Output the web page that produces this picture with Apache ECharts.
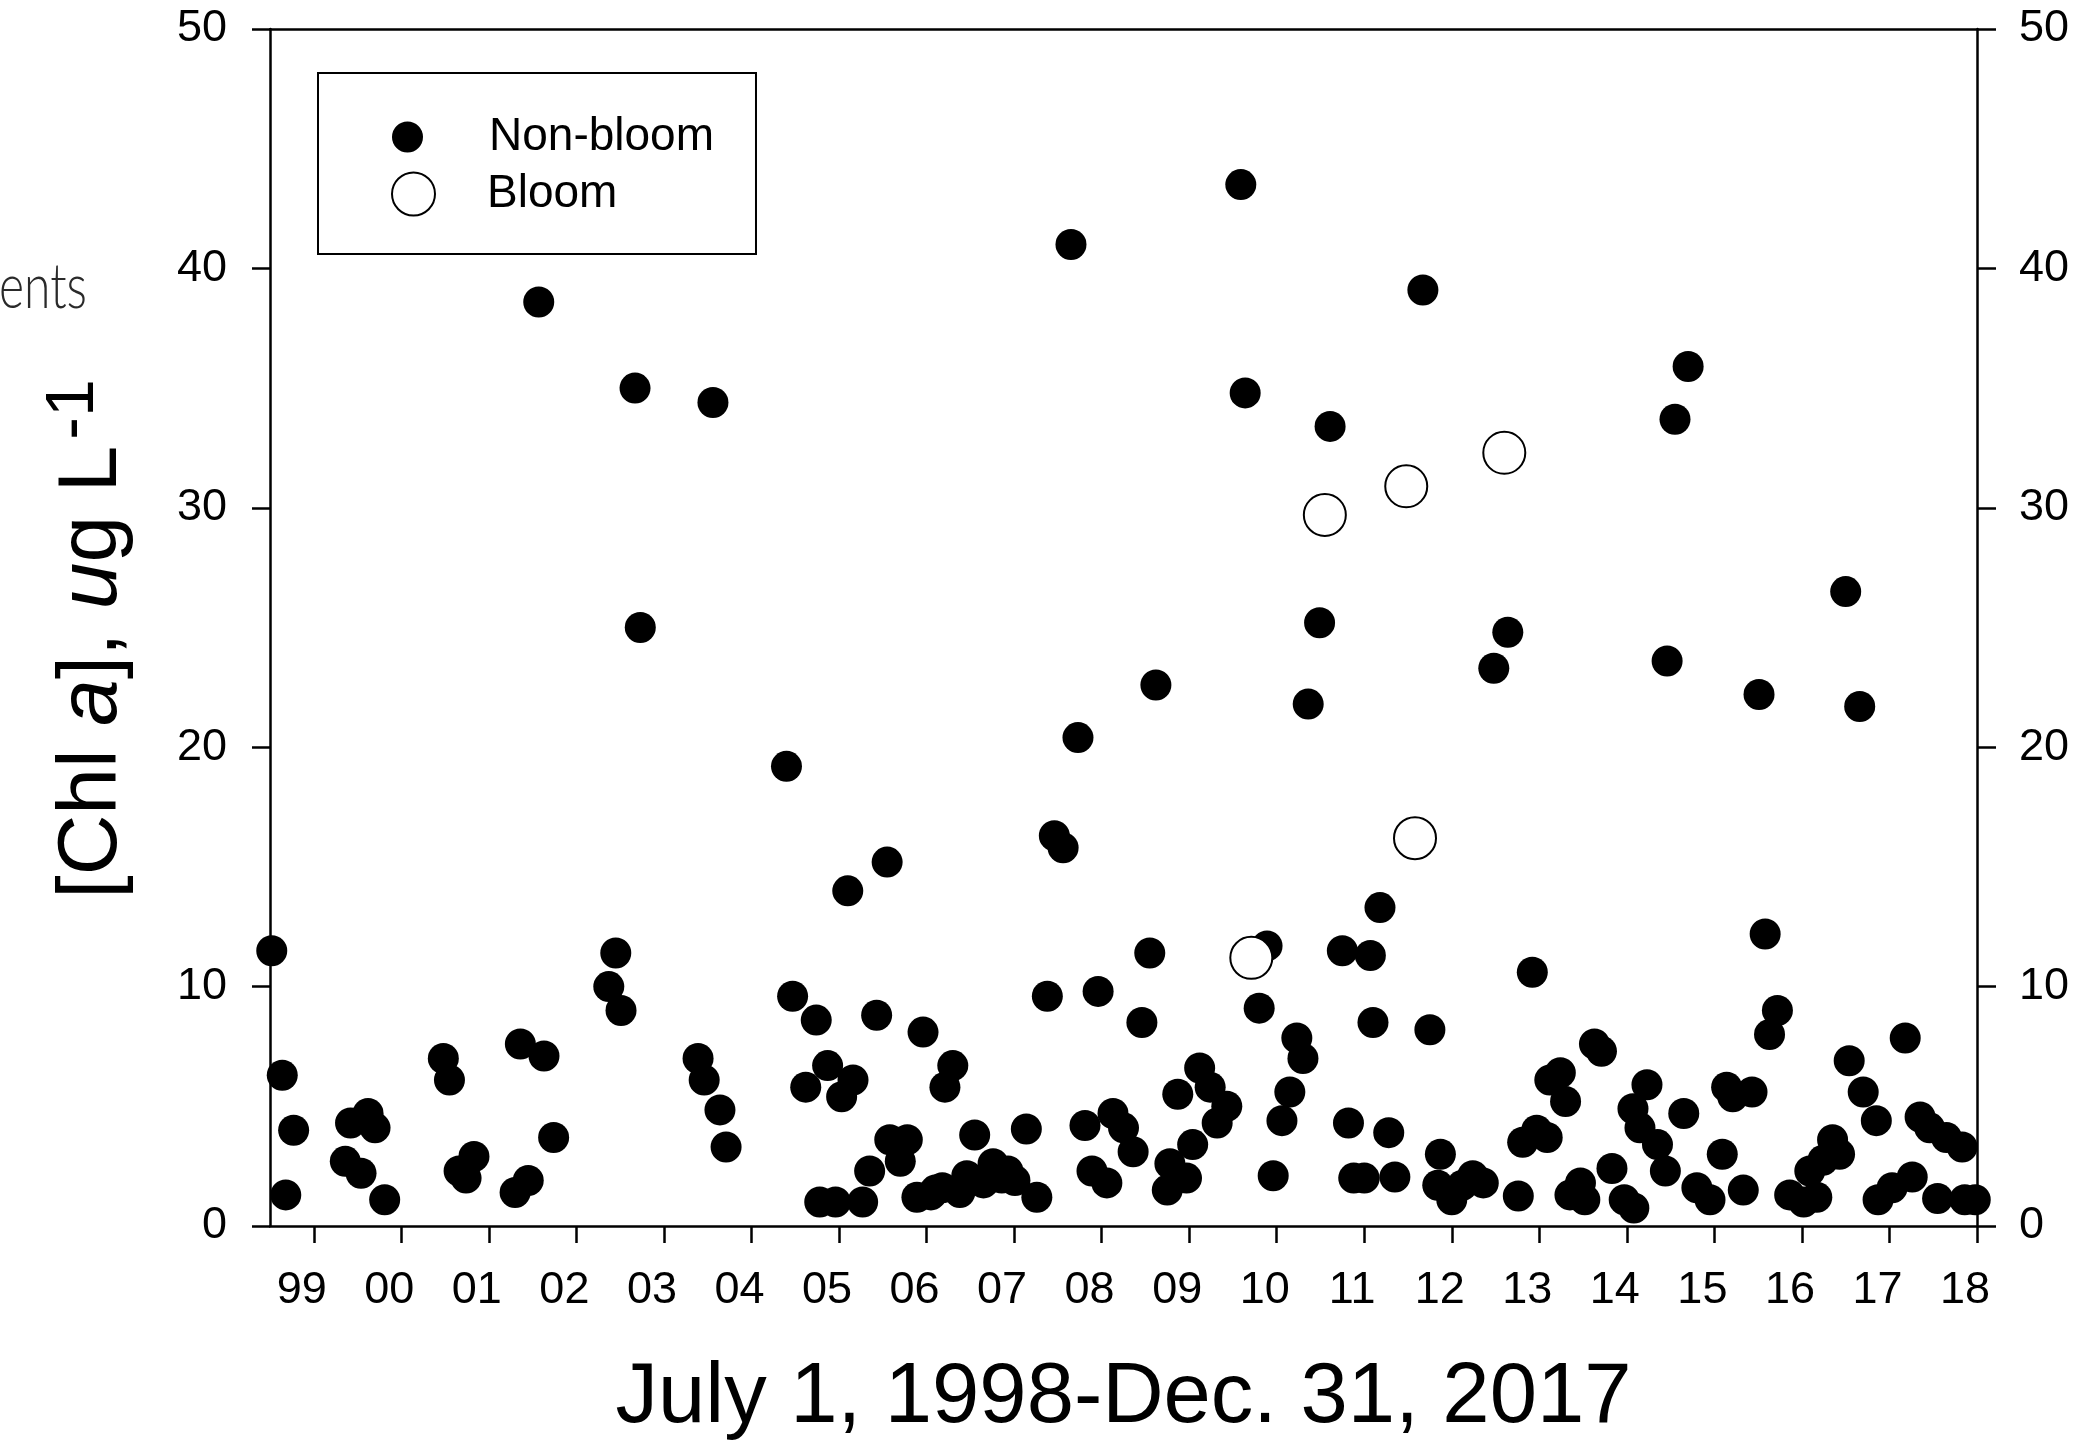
<!DOCTYPE html>
<html>
<head>
<meta charset="utf-8">
<script src="https://cdn.jsdelivr.net/npm/echarts@6/dist/echarts.min.js"></script>
<style>
html,body{margin:0;padding:0;background:#fff;}
#c{width:2094px;height:1455px;}
</style>
</head>
<body>
<div id="c"></div>
<script>
// ---- tick labels ----
const yearTicks = [1999,2000,2001,2002,2003,2004,2005,2006,2007,2008,2009,2010,2011,2012,2013,2014,2015,2016,2017,2018];
const yearLabels = ['99','00','01','02','03','04','05','06','07','08','09','10','11','12','13','14','15','16','17','18'];

// ---- Non-bloom samples (decimal year, Chl a ug/L) ----
const nonBloomYear = [
  1998.52,1998.64,1998.68,1998.77,1999.36,1999.42,1999.54,1999.62,1999.70,1999.81,
  2000.48,2000.55,2000.66,2000.74,2000.83,
  2001.30,2001.36,2001.45,2001.57,2001.63,2001.74,
  2002.37,2002.45,2002.51,2002.67,2002.73,
  2003.39,2003.46,2003.56,2003.64,2003.71,
  2004.40,2004.47,2004.62,2004.74,2004.78,2004.87,2004.96,
  2005.03,2005.10,2005.16,2005.27,2005.35,2005.43,2005.55,2005.58,2005.70,2005.78,2005.89,2005.96,
  2006.05,2006.10,2006.18,2006.21,2006.30,2006.38,2006.46,2006.55,2006.65,2006.76,2006.86,2006.93,
  2007.01,2007.14,2007.26,2007.38,2007.46,2007.56,2007.65,2007.73,2007.81,2007.89,2007.96,
  2008.06,2008.13,2008.25,2008.36,2008.46,2008.55,2008.62,2008.75,2008.78,2008.87,2008.97,
  2009.04,2009.12,2009.24,2009.32,2009.43,2009.59,2009.64,2009.80,2009.89,2009.96,
  2010.06,2010.15,2010.23,2010.30,2010.36,2010.49,2010.61,2010.75,2010.82,2010.88,
  2011.00,2011.07,2011.10,2011.18,2011.28,2011.35,2011.67,2011.75,2011.84,2011.87,
  2012.00,2012.12,2012.24,2012.36,2012.48,2012.64,2012.76,2012.81,2012.92,2012.97,
  2013.09,2013.12,2013.24,2013.30,2013.35,2013.47,2013.52,2013.63,2013.71,2013.83,2013.97,
  2014.08,2014.07,2014.15,2014.23,2014.35,2014.44,2014.46,2014.55,2014.65,2014.70,2014.80,2014.95,
  2015.09,2015.14,2015.21,2015.33,2015.43,2015.51,2015.58,2015.63,2015.72,2015.86,
  2016.02,2016.09,2016.17,2016.24,2016.35,2016.43,2016.50,2016.54,2016.66,2016.70,2016.85,2016.87,
  2017.03,2017.18,2017.26,2017.35,2017.46,2017.55,2017.65,2017.83,2017.86,2017.98
];
const nonBloomChl = [
  11.5,6.3,1.3,4.0,2.7,4.3,2.2,4.7,4.1,1.1,
  7.0,6.1,2.3,2.0,2.9,
  1.4,7.6,1.9,38.6,7.1,3.7,
  10.0,11.4,9.0,35.0,25.0,
  7.0,6.1,34.4,4.85,3.3,
  19.2,9.6,5.8,8.6,1.0,6.7,1.0,
  5.4,14.0,6.1,1.0,2.3,8.8,15.2,3.6,2.7,3.6,1.2,8.1,
  1.3,1.5,1.6,5.8,6.7,1.4,2.1,3.8,1.8,2.6,2.0,2.3,
  1.9,4.05,1.2,9.6,16.3,15.8,41.0,20.4,4.2,2.3,9.8,
  1.8,4.7,4.1,3.1,8.5,11.4,22.6,1.5,2.6,5.5,2.0,
  3.4,6.6,5.8,4.3,5.0,43.5,34.8,9.1,11.7,2.1,
  4.4,5.6,7.85,7.0,21.8,25.2,33.4,11.5,4.3,2.0,
  2.0,11.3,8.5,13.3,3.9,2.05,39.1,8.2,1.7,3.0,
  1.1,1.7,2.1,1.8,23.3,24.8,1.25,3.5,10.6,4.0,
  3.7,6.1,6.4,5.2,1.3,1.8,1.1,7.6,7.3,2.4,1.1,
  0.75,4.9,4.1,5.9,3.4,2.3,23.6,33.7,4.7,35.9,1.6,1.1,
  3.0,5.8,5.4,1.5,5.6,22.2,12.2,8.0,9.0,1.3,
  1.0,2.3,1.2,2.75,3.6,3.0,26.5,6.9,21.7,5.6,4.4,1.1,
  1.6,7.85,2.05,4.55,4.1,1.15,3.7,3.3,1.1,1.1
];

// ---- Bloom samples ----
const bloomYear = [2009.71, 2010.55, 2011.48, 2011.58, 2012.60];
const bloomChl  = [11.2, 29.7, 30.9, 16.2, 32.3];

const FONT = '"Liberation Sans", Arial, sans-serif';
const nonBloomData = nonBloomYear.map((x, i) => [x, nonBloomChl[i]]);
const bloomData = bloomYear.map((x, i) => [x, bloomChl[i]]);

const axisLineStyle = { color: '#000', width: 2.5 };

const chart = echarts.init(document.getElementById('c'), null, { renderer: 'canvas' });
chart.setOption({
  animation: false,
  backgroundColor: '#fff',
  grid: { left: 270, right: 117, top: 29, bottom: 229, containLabel: false },
  legend: [
    {
      data: ['Non-bloom'], left: 318, top: 73, orient: 'vertical',
      itemWidth: 31, itemHeight: 31, selectedMode: false,
      textStyle: { fontSize: 46, fontFamily: FONT, color: '#000', padding: [0, 0, 0, 61] },
      borderColor: '#000', borderWidth: 2, padding: [41, 42, 94, 74]
    },
    {
      data: ['Bloom'], left: 386, top: 166, orient: 'vertical',
      itemWidth: 43, itemHeight: 43, selectedMode: false,
      textStyle: { fontSize: 46, fontFamily: FONT, color: '#000', padding: [0, 0, 0, 47] }
    }
  ],
  xAxis: [
    {
      type: 'value', min: 1998.5, max: 2018, position: 'bottom',
      axisLine: { show: true, onZero: false, lineStyle: axisLineStyle },
      axisTick: { show: true, customValues: yearTicks, length: 17, lineStyle: axisLineStyle },
      axisLabel: {
        customValues: yearTicks,
        formatter: v => yearLabels[yearTicks.indexOf(Math.round(v))],
        fontSize: 45, fontFamily: FONT, color: '#000', margin: 42, padding: [0, 24, 0, 0]
      },
      splitLine: { show: false },
      name: 'July 1, 1998-Dec. 31, 2017', nameLocation: 'middle', nameGap: 130,
      nameTextStyle: { fontSize: 85, fontFamily: FONT, color: '#000' }
    },
    {
      type: 'value', min: 1998.5, max: 2018, position: 'top',
      axisLine: { show: true, onZero: false, lineStyle: axisLineStyle },
      axisTick: { show: false }, axisLabel: { show: false }, splitLine: { show: false }
    }
  ],
  yAxis: [
    {
      type: 'value', min: 0, max: 50, interval: 10, position: 'left',
      axisLine: { show: true, onZero: false, lineStyle: axisLineStyle },
      axisTick: { show: true, length: 18, lineStyle: axisLineStyle },
      axisLabel: { fontSize: 45, fontFamily: FONT, color: '#000', margin: 43 },
      splitLine: { show: false },
      name: '{n|[Chl }{i|a}{n|], }{i|u}{n|g L}{s|-1}',
      nameLocation: 'middle', nameGap: 135, nameRotate: 90,
      nameTextStyle: {
        fontSize: 84, fontFamily: FONT, color: '#000', padding: [0, 23, 0, 0],
        rich: {
          n: { fontSize: 84, fontFamily: FONT, color: '#000', verticalAlign: 'bottom' },
          i: { fontSize: 84, fontFamily: FONT, color: '#000', fontStyle: 'italic', verticalAlign: 'bottom' },
          s: { fontSize: 68, fontFamily: FONT, color: '#000', verticalAlign: 'bottom', padding: [0, 0, 27, 6] }
        }
      }
    },
    {
      type: 'value', min: 0, max: 50, interval: 10, position: 'right',
      axisLine: { show: true, onZero: false, lineStyle: axisLineStyle },
      axisTick: { show: true, length: 19, lineStyle: axisLineStyle },
      axisLabel: { fontSize: 45, fontFamily: FONT, color: '#000', margin: 42 },
      splitLine: { show: false }
    }
  ],
  graphic: [
    {
      type: 'text', x: 87, y: 287, scaleX: 0.75, silent: true,
      style: { text: 'ents', x: 0, y: 0, fill: '#2a2a2a', font: '300 64px Lato, "Open Sans", sans-serif', align: 'right', verticalAlign: 'middle' }
    }
  ],
  series: [
    {
      type: 'scatter', name: 'Non-bloom', data: nonBloomData,
      xAxisIndex: 0, yAxisIndex: 0,
      symbol: 'circle', symbolSize: 31,
      itemStyle: { color: '#000', opacity: 1 },
      emphasis: { disabled: true }
    },
    {
      type: 'scatter', name: 'Bloom', data: bloomData,
      xAxisIndex: 0, yAxisIndex: 0,
      symbol: 'circle', symbolSize: 42,
      itemStyle: { color: '#fff', borderColor: '#000', borderWidth: 2, opacity: 1 },
      emphasis: { disabled: true }
    }
  ]
});
</script>
</body>
</html>
